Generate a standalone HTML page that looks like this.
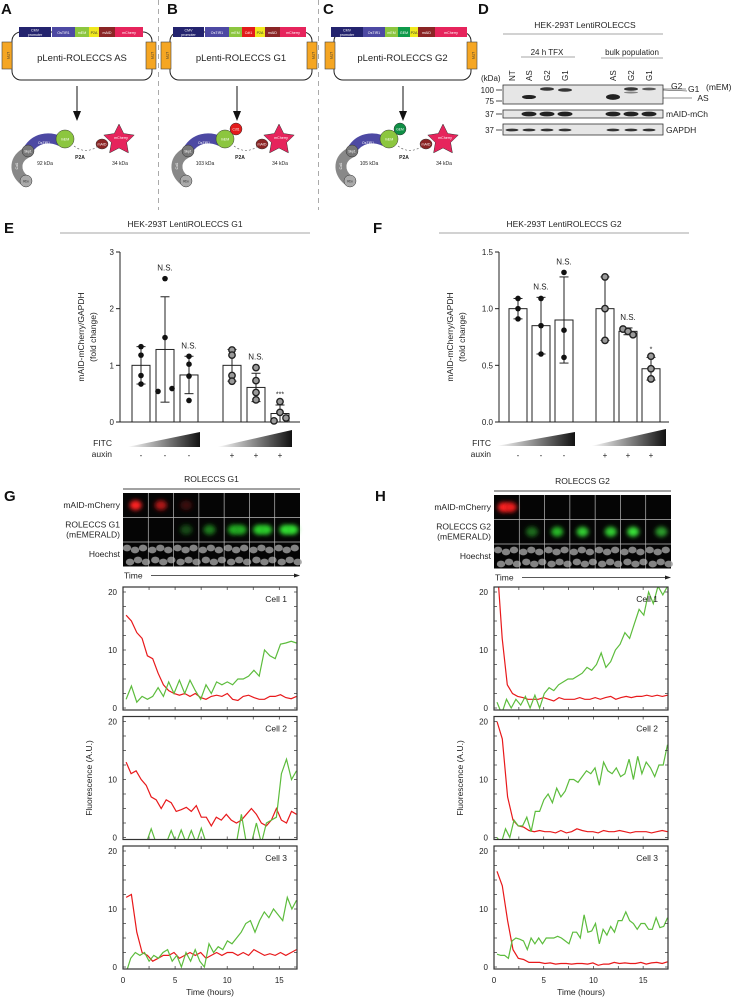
<!DOCTYPE html>
<html><head><meta charset="utf-8">
<style>
html,body{margin:0;padding:0;background:#fff;}
svg{display:block;font-family:"Liberation Sans",Arial,sans-serif;}
</style></head>
<body>
<svg id="fig" width="742" height="1000" viewBox="0 0 742 1000" xmlns="http://www.w3.org/2000/svg">
<defs>
<linearGradient id="ramp" x1="0" y1="0" x2="1" y2="0"><stop offset="0" stop-color="#fff"/><stop offset="1" stop-color="#111"/></linearGradient>
<filter id="blur" x="-50%" y="-50%" width="200%" height="200%"><feGaussianBlur stdDeviation="2"/></filter>
</defs>
<!-- panel letters -->
<g font-weight="bold" font-size="15" fill="#111">
<text x="1" y="14">A</text>
<text x="167" y="14">B</text>
<text x="323" y="14">C</text>
<text x="478" y="14">D</text>
<text x="4" y="233">E</text>
<text x="373" y="233">F</text>
<text x="4" y="501">G</text>
<text x="375" y="501">H</text>
</g>
<g stroke="#aaa" stroke-dasharray="5,4" stroke-width="1">
<line x1="158.5" y1="0" x2="158.5" y2="210"/><line x1="318.5" y1="0" x2="318.5" y2="210"/>
</g>
<g id="schem"></g>
<g id="blot"></g>
<g id="barE"></g>
<g id="barF"></g>
<g id="imgG"></g>
<g id="imgH"></g>
<g id="tsG"></g>
<g id="tsH"></g>
</svg>
<script>
// ===== DATA =====
const barCats = ["FITC low -", "FITC mid -", "FITC high -", "FITC low +", "FITC mid +", "FITC high +"];
const auxinSigns = ["-", "-", "-", "+", "+", "+"];
const eMeans = [1.0, 1.28, 0.83, 1.0, 0.61, 0.15];
const eErr = [0.33, 0.93, 0.33, 0.28, 0.25, 0.15];
const ePoints = [[1.33,1.18,0.82,0.67],[2.53,1.49,0.54,0.59],[1.16,1.02,0.81,0.38],[1.27,1.18,0.82,0.72],[0.96,0.73,0.52,0.39],[0.36,0.17,0.02,0.07]];
const eSig = ["", "N.S.", "N.S.", "", "N.S.", "***"];
const eTicks = [0, 1, 2, 3];
const fMeans = [1.0, 0.85, 0.9, 1.0, 0.8, 0.47];
const fErr = [0.09, 0.25, 0.38, 0.28, 0.03, 0.1];
const fPoints = [[1.09,1.0,0.91],[1.09,0.85,0.6],[1.32,0.81,0.57],[1.28,1.0,0.72],[0.82,0.8,0.77],[0.58,0.47,0.38]];
const fSig = ["", "N.S.", "N.S.", "", "N.S.", "*"];
const fTicks = ["0.0", "0.5", "1.0", "1.5"];
const timeTicks = [0, 5, 10, 15];
const fluorTicks = [0, 10, 20];
// G series
const g1Red = [16,15,13,12,9,8.5,6,4,3,2.5,2.2,2.5,2,2.5,1.8,1.5,2,2.2,2,2.5,1.5,1.3,2,2.2,1.8,1.5,1.5,2,2,2.3,1.8,1.6,2];
const g1Green = [1.5,3.8,1,2,1.5,2,3.5,2,4.5,2.5,4.8,2.5,4.8,3,1.5,4,2.5,4.5,4,4.5,4,5,5,5.5,6.5,5.5,10,9,8.5,11,11.2,11.5,11.2];
const g2Red = [13,11,11.5,10,9,7,6.5,5,6.5,6,4.5,4.8,5.2,4.5,5.5,3.5,3.5,2,3.5,3,4,3,2.5,3,4,5,4,2.5,2,3,5,3,2.5,4.5,4];
const g2Green = [-1,-1,-1,-1,-1,1.5,-1,-1,-1,1.2,-1,1.3,-1,1.2,-1,1.6,-1,-1,-1,-1,-1,-1,-1,4,-1,-1,2.5,-1,2.5,3,3.5,11,13.5,10,11.5];
const g3Red = [12,12.5,6,2.5,2,1,1.5,2,2,2.5,1.5,2,2.5,2,2.5,1.5,2,2.5,2,2.5,2.5,2,2.5,2,3,2.5,2,2.3,2,2.5,2,2.5,3];
const g3Green = [-1,1.5,2.5,2,2.5,1,2,1.5,2.5,3,1,2,0,2.5,1,3,1,0,4,2.5,3.5,3,4.5,4,5,6,7.5,8,6,8,9.5,8.5,10,9,8,12,10,11.5];
// H series
const h1Red = [25,12,4,2.5,2,1.8,1.5,1.5,1.5,1.8,1.5,1.2,1.8,1.5,1.5,1.5,1.8,1.5,1.5,1.8,1.5,1.8,2,1.5,1.8,2,1.8,2,2,2.2,2,2.2,2,2.2];
const h1Green = [1,-1,1.5,0,1.5,0.5,2,0,2.2,0,2.5,3.5,3,4,4.5,5,5,5.5,6,7,6.5,7.5,9.5,7,8,10,11,13,12,14.5,17,16,20,18,21,19.5,21];
const h2Red = [20,17,7,3,2,1.8,1.2,1,1.2,1,1,0.8,1.2,0.8,1,1.5,1.2,1,1,0.8,1.2,1,1,1.2,1,0.8,1,1,1,0.8,1,1.2,1];
const h2Green = [0,-1,1.5,0,3,2,2,3.5,1,4.5,4.5,6.5,7.5,6,8.5,7,8,10,10,9.5,10.5,11.5,11,12,9,13,11.5,11,12,10.5,11,13.5,10,14,11,13,12,10.5,12.5,12.5,16];
const h3Red = [16.5,14,8,3,1.5,1.3,0.8,0.8,0.8,0.6,0.7,0.5,0.6,0.6,0.5,0.6,0.6,0.5,0.7,0.3,0.5,0.5,0.8,0.6,0.7,0.6,0.6,0.8,0.5,0.7,0.8,0.6,0.9];
const h3Green = [2.2,2,2,1.5,4.5,5,4.8,4.5,3,5,4,5,4,5,5,5,5.3,5,4.5,4,6,6,5,9,6,6.2,7.5,4,6.5,5.5,7,6,8,8,9.5,8,7.5,6.5,7.5,7.5,6.5,6.5,8.5,6.8,7,8.5];

const NS = "http://www.w3.org/2000/svg";
function mk(parent, tag, attrs, txt) {
  const el = document.createElementNS(NS, tag);
  for (const k in attrs) el.setAttribute(k, attrs[k]);
  if (txt !== undefined) el.textContent = txt;
  parent.appendChild(el);
  return el;
}
let el;

// ===== SCHEMATICS A-C =====
const schem = document.getElementById("schem");
const constructs = [
  {ox:0, title:"pLenti-ROLECCS AS", kda:"92 kDa", segs:[["CMV promoter",19,51,"#23236e"],["OsTIR1",52,75,"#4d49a3"],["mEM",75,89,"#8cc63f"],["P2A",89,99,"#f0e81e"],["mAID",99,115,"#8b2525"],["mCherry",115,143,"#e6245c"]], extra:null, ltr:[2,146], box:[12,152], arrow:77},
  {ox:160, title:"pLenti-ROLECCS G1", kda:"103 kDa", segs:[["CMV promoter",173,204,"#23236e"],["OsTIR1",205,229,"#4d49a3"],["mEM",229,242,"#8cc63f"],["Cdt1",242,255,"#e31b1b"],["P2A",255,265,"#f0e81e"],["mAID",265,280,"#8b2525"],["mCherry",280,306,"#e6245c"]], extra:["Cdt1","#e31b1b"], ltr:[161,307], box:[170,312], arrow:237},
  {ox:326, title:"pLenti-ROLECCS G2", kda:"105 kDa", segs:[["CMV promoter",331,363,"#23236e"],["OsTIR1",363,385,"#4d49a3"],["mEM",385,398,"#8cc63f"],["GEM",398,410,"#0f9a4a"],["P2A",410,418,"#f0e81e"],["mAID",418,435,"#8b2525"],["mCherry",435,467,"#e6245c"]], extra:["GEM","#0f8f45"], ltr:[325,467], box:[334,471], arrow:403}
];
constructs.forEach((c, ci) => {
  const g = mk(schem, "g", {});
  
  
  mk(g, "rect", {x:c.box[0], y:32, width:c.box[1]-c.box[0], height:48, rx:9, fill:"#fff", stroke:"#222", "stroke-width":1});
  c.segs.forEach(s => {
    mk(g, "rect", {x:s[1], y:27, width:s[2]-s[1], height:10, fill:s[3]});
    el = mk(g, "text", {x:(s[1]+s[2])/2, y:s[0]==="CMV promoter"?31.5:34, "font-size":3.6, fill:"#fff", "text-anchor":"middle"}, s[0]==="CMV promoter"?"CMV":s[0]);
    
    
    if (s[0]==="P2A") el.setAttribute("fill","#333");
    if (s[0]==="CMV promoter") { mk(g, "text", {x:(s[1]+s[2])/2, y:36, "font-size":3.6, fill:"#fff", "text-anchor":"middle"}, "promoter"); }
  });
  c.ltr.forEach(lx => {
    mk(g, "rect", {x:lx, y:42, width:10, height:27, fill:"#f5a623", stroke:"#444", "stroke-width":0.6});
    mk(g, "text", {x:lx+5, y:55.5, "font-size":4, fill:"#333", "text-anchor":"middle", transform:`rotate(90 ${lx+5} 55.5)`}, "LTR");
  });
  el = mk(g, "text", {x:(c.box[0]+c.box[1])/2, y:61, "font-size":9.5, fill:"#222", "text-anchor":"middle"}, c.title);
  
  
  mk(g, "line", {x1:c.arrow, y1:86, x2:c.arrow, y2:116, stroke:"#111", "stroke-width":1});
  mk(g, "path", {d:`M${c.arrow-4} 111 L${c.arrow} 121 L${c.arrow+4} 111 Z`, fill:"#111"});
  // protein
  const ox = c.ox + (ci===2?-2:0);
  mk(g, "path", {d:`M${ox+28} 152 C${ox+14} 158 ${ox+14} 172 ${ox+24} 180`, fill:"none", stroke:"#888", "stroke-width":11, "stroke-linecap":"round"});
  mk(g, "path", {d:`M${ox+28} 150 C${ox+35} 138 ${ox+48} 136 ${ox+60} 141`, fill:"none", stroke:"#4d49a3", "stroke-width":10, "stroke-linecap":"round"});
  mk(g, "text", {x:ox+44, y:144, "font-size":3.5, fill:"#fff", "text-anchor":"middle"}, "OsTIR1");
  mk(g, "circle", {cx:ox+28, cy:151, r:6, fill:"#777", stroke:"#333", "stroke-width":0.5});
  mk(g, "text", {x:ox+28, y:152.5, "font-size":3.3, fill:"#fff", "text-anchor":"middle"}, "Skp1");
  mk(g, "text", {x:ox+18, y:166, "font-size":3.3, fill:"#fff", "text-anchor":"middle", transform:`rotate(-90 ${ox+18} 166)`}, "Cul1");
  mk(g, "circle", {cx:ox+26, cy:181, r:6, fill:"#aaa", stroke:"#333", "stroke-width":0.5});
  mk(g, "text", {x:ox+26, y:182.5, "font-size":3.3, fill:"#333", "text-anchor":"middle"}, "Rbx");
  mk(g, "circle", {cx:ox+65, cy:139, r:9, fill:"#8cc63f", stroke:"#333", "stroke-width":0.5});
  mk(g, "text", {x:ox+65, y:140.5, "font-size":3.6, fill:"#fff", "text-anchor":"middle"}, "mEM");
  if (c.extra) {
    mk(g, "circle", {cx:ox+76, cy:129, r:6, fill:c.extra[1], stroke:"#333", "stroke-width":0.5});
    mk(g, "text", {x:ox+76, y:130.5, "font-size":3.3, fill:"#fff", "text-anchor":"middle"}, c.extra[0]);
  }
  mk(g, "text", {x:ox+45, y:165, "font-size":5, fill:"#222", "text-anchor":"middle"}, c.kda);
  mk(g, "path", {d:`M${ox+74} 146 Q${ox+86} 155 ${ox+98} 146`, fill:"none", stroke:"#555", "stroke-width":0.6, "stroke-dasharray":"2,2"});
  mk(g, "text", {x:ox+80, y:159, "font-size":5, "font-weight":"bold", fill:"#222", "text-anchor":"middle"}, "P2A");
  mk(g, "ellipse", {cx:ox+102, cy:144, rx:6, ry:5, fill:"#8b2525", stroke:"#333", "stroke-width":0.5});
  mk(g, "text", {x:ox+102, y:145.5, "font-size":3.6, fill:"#fff", "text-anchor":"middle"}, "mAID");
  const cx = ox+119, cy = 140, pts = [];
  for (let k=0;k<10;k++){ const r = k%2?8:16, a = -Math.PI/2 + k*Math.PI/5; pts.push((cx+r*Math.cos(a)).toFixed(1)+","+(cy+r*Math.sin(a)).toFixed(1)); }
  mk(g, "polygon", {points:pts.join(" "), fill:"#e6245c", stroke:"#333", "stroke-width":0.5});
  mk(g, "text", {x:cx+2, y:139, "font-size":3.6, fill:"#fff", "text-anchor":"middle"}, "mCherry");
  mk(g, "text", {x:ox+120, y:165, "font-size":5, fill:"#222", "text-anchor":"middle"}, "34 kDa");
});

// ===== WESTERN BLOT D =====
const blot = document.getElementById("blot");
const lanes = ["NT","AS","G2","G1","AS","G2","G1"];
const laneX = [512, 529, 547, 565, 613, 631, 649];
mk(blot, "text", {x:585, y:28, "font-size":8.5, fill:"#222", "text-anchor":"middle"}, "HEK-293T LentiROLECCS");
mk(blot, "line", {x1:503, y1:34, x2:663, y2:34, stroke:"#888", "stroke-width":0.8});
mk(blot, "text", {x:547, y:55, "font-size":8, fill:"#222", "text-anchor":"middle"}, "24 h TFX");
mk(blot, "line", {x1:521, y1:57, x2:575, y2:57, stroke:"#888", "stroke-width":0.8});
mk(blot, "text", {x:632, y:55, "font-size":8, fill:"#222", "text-anchor":"middle"}, "bulk population");
mk(blot, "line", {x1:601, y1:58, x2:663, y2:58, stroke:"#888", "stroke-width":0.8});
mk(blot, "text", {x:481, y:81, "font-size":8, fill:"#222"}, "(kDa)");
lanes.forEach((l,i)=>{
  el = mk(blot, "text", {x:laneX[i]+3, y:81, "font-size":8, fill:"#222", transform:`rotate(-90 ${laneX[i]+3} 81)`}, l);
  
  
});
[[85,104],[110,118],[124,135]].forEach(b=>{ mk(blot,"rect",{x:503,y:b[0],width:160,height:b[1]-b[0],fill:"#e6e6e6",stroke:"#333","stroke-width":0.8}); });
[["100",90],["75",101],["37",114],["37",130]].forEach(m=>{
  mk(blot,"text",{x:494,y:m[1]+3,"font-size":8,fill:"#222","text-anchor":"end"},m[0]);
  mk(blot,"line",{x1:496,y1:m[1],x2:502,y2:m[1],stroke:"#222","stroke-width":0.8});
});
const bands = [[547,89,1],[565,90,1],[529,97,1.2],[613,97,1.8],[631,89,1],[631,92.5,0.35],[649,89,0.7]];
bands.forEach(b=>{ mk(blot,"ellipse",{cx:b[0],cy:b[1],rx:7,ry:1.3*b[2]+0.5,fill:"#222","fill-opacity":Math.min(1,0.3+b[2]*0.6)}); });
laneX.forEach((x,i)=>{ if(i>0) mk(blot,"ellipse",{cx:x,cy:114,rx:7.5,ry:2.4,fill:"#222"}); mk(blot,"ellipse",{cx:x,cy:130,rx:6.5,ry:1.4,fill:"#333"}); });
mk(blot,"text",{x:688,y:92,"font-size":8.5,fill:"#222"},"G1");
mk(blot,"text",{x:671,y:89,"font-size":8.5,fill:"#222"},"G2");
mk(blot,"line",{x1:663,y1:89,x2:686,y2:89,stroke:"#222","stroke-width":0.5});
mk(blot,"line",{x1:663,y1:90,x2:687,y2:91,stroke:"#222","stroke-width":0.5});
mk(blot,"text",{x:706,y:90,"font-size":8.5,fill:"#222"},"(mEM)");
mk(blot,"text",{x:703,y:101,"font-size":8.5,fill:"#222","text-anchor":"middle"},"AS");
mk(blot,"line",{x1:663,y1:98,x2:692,y2:98,stroke:"#222","stroke-width":0.5});
mk(blot,"text",{x:666,y:117,"font-size":8.5,fill:"#222"},"mAID-mCh");
mk(blot,"text",{x:666,y:133,"font-size":8.5,fill:"#222"},"GAPDH");

// ===== BAR CHARTS E/F =====
function barChart(gid, cfg, means, errs, points, sig, ticks) {
  const g = document.getElementById(gid);
  const yS = v => cfg.y0 - v/cfg.ymax*(cfg.y0-cfg.ytop);
  const xS = i => cfg.c0 + i*cfg.step + (i>=3?cfg.gap:0);
  mk(g,"text",{x:cfg.titleX,y:227,"font-size":8.5,fill:"#222","text-anchor":"middle"},cfg.title);
  mk(g,"line",{x1:cfg.titleX-125,y1:233,x2:cfg.titleX+125,y2:233,stroke:"#888","stroke-width":0.8});
  mk(g,"line",{x1:cfg.ax,y1:cfg.ytop,x2:cfg.ax,y2:cfg.y0,stroke:"#222","stroke-width":1});
  mk(g,"line",{x1:cfg.ax,y1:cfg.y0,x2:cfg.axEnd,y2:cfg.y0,stroke:"#222","stroke-width":1});
  ticks.forEach((t,i)=>{
    const y = yS(i*cfg.tickStep);
    mk(g,"line",{x1:cfg.ax-4,y1:y,x2:cfg.ax,y2:y,stroke:"#222","stroke-width":1});
    el = mk(g,"text",{x:cfg.ax-6,y:y+3,"font-size":8,fill:"#222","text-anchor":"end"},String(t));
    
    
  });
  const yl = mk(g,"text",{x:0,y:0,"font-size":8.5,fill:"#222","text-anchor":"middle",transform:`translate(${cfg.ylx},${(cfg.ytop+cfg.y0)/2}) rotate(-90)`},"mAID-mCherry/GAPDH");
  
  
  mk(g,"text",{x:0,y:0,"font-size":8.5,fill:"#222","text-anchor":"middle",transform:`translate(${cfg.ylx+12},${(cfg.ytop+cfg.y0)/2}) rotate(-90)`},"(fold change)");
  means.forEach((m,i)=>{
    const cx = xS(i);
    el = mk(g,"rect",{x:cx-cfg.bw/2,y:yS(m),width:cfg.bw,height:cfg.y0-yS(m),fill:"#fff",stroke:"#222","stroke-width":1});
    
    
    const lo = Math.max(0,m-errs[i]), hi = m+errs[i];
    mk(g,"line",{x1:cx,y1:yS(lo),x2:cx,y2:yS(hi),stroke:"#222","stroke-width":1});
    mk(g,"line",{x1:cx-4.5,y1:yS(hi),x2:cx+4.5,y2:yS(hi),stroke:"#222","stroke-width":1});
    mk(g,"line",{x1:cx-4.5,y1:yS(lo),x2:cx+4.5,y2:yS(lo),stroke:"#222","stroke-width":1});
    points[i].forEach((p,j)=>{
      let dx = 0;
      if (points[i].length===4 && (i===1||i===5)) dx = [0,0,-7,7][j];
      if (i===4 && gid==="barF") dx = [-5,0,5][j];
      if (i===5 && gid==="barE") dx = [0,0,-6,6][j];
      el = mk(g,"circle",{cx:cx+dx,cy:yS(p),r:i<3?2.8:3.2,fill:i<3?"#111":"#9a9a9a",stroke:"#222","stroke-width":i<3?0:1.4});
      
      
    });
    if (sig[i]) {
      const top = Math.max(hi, Math.max(...points[i]));
      el = mk(g,"text",{x:cx,y:yS(top)-(sig[i]==="N.S."?8:5),"font-size":sig[i]==="N.S."?8:7,fill:"#222","text-anchor":"middle"},sig[i]);
      
      
    }
    el = mk(g,"text",{x:cx,y:cfg.y0+36,"font-size":8,fill:"#222","text-anchor":"middle"},auxinSigns[i]);
    
    
  });
  cfg.tri.forEach(t=>{ mk(g,"polygon",{points:`${t[0]},${t[3]} ${t[1]},${t[2]} ${t[1]},${t[3]}`,fill:"url(#ramp)"}); });
  mk(g,"text",{x:cfg.ax-8,y:cfg.y0+24,"font-size":8.5,fill:"#222","text-anchor":"end"},"FITC");
  mk(g,"text",{x:cfg.ax-8,y:cfg.y0+35,"font-size":8.5,fill:"#222","text-anchor":"end"},"auxin");
}
barChart("barE",{title:"HEK-293T LentiROLECCS G1",titleX:185,ax:120,axEnd:300,ytop:252,y0:422,ymax:3,tickStep:1,c0:141,step:24,gap:19,bw:18,ylx:84,tri:[[127,200,432,447],[217,292,430,447]]},eMeans,eErr,ePoints,eSig,eTicks);
barChart("barF",{title:"HEK-293T LentiROLECCS G2",titleX:564,ax:499,axEnd:669,ytop:252,y0:422,ymax:1.5,tickStep:0.5,c0:518,step:23,gap:18,bw:18,ylx:453,tri:[[496,575,432,446],[591,666,429,446]]},fMeans,fErr,fPoints,fSig,fTicks);

// ===== IMAGE STRIPS =====
function strip(gid, x0, y0, title, label2, blobs) {
  const g = document.getElementById(gid);
  const w = 177, cw = w/7, rh = 24.5;
  mk(g,"text",{x:x0+w/2,y:y0-11,"font-size":8.5,fill:"#222","text-anchor":"middle"},title);
  mk(g,"line",{x1:x0,y1:y0-4,x2:x0+w,y2:y0-4,stroke:"#444","stroke-width":1});
  mk(g,"rect",{x:x0,y:y0,width:w,height:rh*3,fill:"#050505"});
  for (let c=0;c<7;c++){
    const cx = x0 + c*cw;
    // hoechst nuclei
    for (let k=0;k<6;k++){
      mk(g,"ellipse",{cx:cx+4+(k%3)*8+(k>2?3:0),cy:y0+2*rh+6+(k>2?12:0)+((c+k)%2)*2,rx:4.2,ry:3.4,fill:"#9a9a9a",opacity:0.85});
    }
  }
  blobs.forEach(b=>{
    el = mk(g,"ellipse",{cx:x0+(b[0]+0.5)*cw+(b[3]||0),cy:y0+(b[1]+0.5)*rh,rx:6,ry:5,fill:b[2],filter:"url(#blur)"});
    
    
  });
  for (let c=1;c<7;c++) mk(g,"line",{x1:x0+c*cw,y1:y0,x2:x0+c*cw,y2:y0+rh*3,stroke:"#bbb","stroke-width":0.7});
  for (let r=1;r<3;r++) mk(g,"line",{x1:x0,y1:y0+r*rh,x2:x0+w,y2:y0+r*rh,stroke:"#bbb","stroke-width":0.7});
  mk(g,"text",{x:x0-3,y:y0+15,"font-size":8.5,fill:"#222","text-anchor":"end"},"mAID-mCherry");
  mk(g,"text",{x:x0-3,y:y0+rh+10,"font-size":8.5,fill:"#222","text-anchor":"end"},label2);
  mk(g,"text",{x:x0-3,y:y0+rh+20,"font-size":8.5,fill:"#222","text-anchor":"end"},"(mEMERALD)");
  mk(g,"text",{x:x0-3,y:y0+2*rh+15,"font-size":8.5,fill:"#222","text-anchor":"end"},"Hoechst");
  mk(g,"text",{x:x0+1,y:y0+rh*3+12,"font-size":8.5,fill:"#222"},"Time");
  mk(g,"line",{x1:x0+28,y1:y0+rh*3+9,x2:x0+w-3,y2:y0+rh*3+9,stroke:"#222","stroke-width":0.8});
  mk(g,"path",{d:`M${x0+w-6} ${y0+rh*3+7} L${x0+w} ${y0+rh*3+9} L${x0+w-6} ${y0+rh*3+11}Z`,fill:"#222"});
}
strip("imgG",123,493,"ROLECCS G1","ROLECCS G1",[[0,0,"#ff2020"],[1,0,"#b01818"],[2,0,"#3a0808"],[2,1,"#124a12",0],[3,1,"#1a7a1a",-2],[4,1,"#22aa22",-3],[4,1,"#22aa22",4],[5,1,"#2ccc2c",-3],[5,1,"#2ccc2c",4],[6,1,"#30dd30",-2],[6,1,"#30dd30",5]]);
strip("imgH",494,495,"ROLECCS G2","ROLECCS G2",[[0,0,"#ff2020",-3],[0,0,"#ee1a1a",4],[1,1,"#1a6a1a"],[2,1,"#28b828"],[3,1,"#30cc30"],[4,1,"#30cc30",3],[5,1,"#38e038"],[6,1,"#2a9a2a",3]]);

// ===== TIME SERIES =====
function tsPanel(gid, x0, xmax, series) {
  const g = document.getElementById(gid);
  const w = 174, tmax = xmax;
  const xS = t => x0 + t/tmax*w;
  series.forEach((s, k) => {
    const top = 587 + k*129.5;
    const yS = v => top + 121 - v/20*116;
    const pg = mk(g,"g",{});
    
    
    const cid = gid + "clip" + k;
    const cp = mk(pg,"clipPath",{id:cid});
    mk(cp,"rect",{x:x0,y:top,width:w,height:123});
    [[s[0],"#e8191b"],[s[1],"#5cbc3c"]].forEach((ser,si)=>{
      const n = ser[0].length, t0 = 0.3, t1 = tmax - 0.05;
      const d = ser[0].map((v,i)=>(i?"L":"M")+xS(t0+i*(t1-t0)/(n-1)).toFixed(1)+" "+yS(v).toFixed(1)).join(" ");
      el = mk(pg,"path",{d:d,fill:"none",stroke:ser[1],"stroke-width":1.2,"clip-path":`url(#${cid})`});
      
      
    });
    mk(pg,"rect",{x:x0,y:top,width:w,height:123,fill:"none",stroke:"#333","stroke-width":1.2});
    for (let v=0; v<=20; v+=2.5) {
      mk(pg,"line",{x1:x0,y1:yS(v),x2:x0+3,y2:yS(v),stroke:"#333","stroke-width":0.7});
      mk(pg,"line",{x1:x0+w,y1:yS(v),x2:x0+w-3,y2:yS(v),stroke:"#333","stroke-width":0.7});
    }
    for (let t=0; t<=tmax; t+=2.5) {
      mk(pg,"line",{x1:xS(t),y1:top,x2:xS(t),y2:top+3,stroke:"#333","stroke-width":0.7});
      mk(pg,"line",{x1:xS(t),y1:top+123,x2:xS(t),y2:top+120,stroke:"#333","stroke-width":0.7});
    }
    fluorTicks.forEach(v=>{
      el = mk(pg,"text",{x:x0-6,y:yS(v)+3,"font-size":8,fill:"#222","text-anchor":"end"},String(v));
      
      
    });
    el = mk(pg,"text",{x:x0+w-10,y:top+15,"font-size":8.5,fill:"#222","text-anchor":"end"},"Cell " + (k+1));
    
    
  });
  timeTicks.forEach(t=>{
    el = mk(g,"text",{x:xS(t),y:983,"font-size":8,fill:"#222","text-anchor":"middle"},String(t));
    
    
  });
  el = mk(g,"text",{x:x0+w/2,y:995,"font-size":8.5,fill:"#222","text-anchor":"middle"},"Time (hours)");
  
  
  el = mk(g,"text",{x:0,y:0,"font-size":8.5,fill:"#222","text-anchor":"middle",transform:`translate(${x0-31},778) rotate(-90)`},"Fluorescence (A.U.)");
  
  
}
tsPanel("tsG",123,16.7,[[g1Red,g1Green],[g2Red,g2Green],[g3Red,g3Green]]);
tsPanel("tsH",494,17.5,[[h1Red,h1Green],[h2Red,h2Green],[h3Red,h3Green]]);
</script>
</body></html>
